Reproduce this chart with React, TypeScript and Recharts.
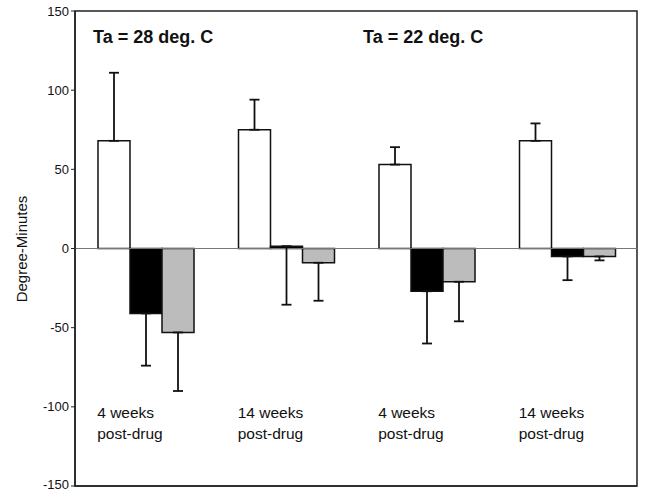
import {
  BarChart,
  Bar,
  XAxis,
  YAxis,
  ErrorBar,
  ReferenceLine,
  ReferenceArea,
} from 'recharts';

// groups along the x axis
const categories = ['4 weeks\npost-drug', '14 weeks\npost-drug', '4 weeks\npost-drug', '14 weeks\npost-drug'];
const conditions = ['Ta = 28 deg. C', 'Ta = 22 deg. C'];

// open bars, error drawn upward
const controlValues = [68, 75, 53, 68];
const controlErrors = [43, 19, 11, 11];

// black bars, error drawn downward
const blackValues = [-41, 1.5, -27, -5];
const blackErrors = [33, 37, 33, 15];

// grey bars, error drawn downward
const greyValues = [-53, -9, -21, -5];
const greyErrors = [37, 24, 25, 2.5];

const yTicks = [-150, -100, -50, 0, 50, 100, 150];

const FONT = '"Liberation Sans", Arial, Helvetica, sans-serif';

const data = categories.map((name, i) => ({
  name,
  control: controlValues[i],
  controlErr: [0, controlErrors[i]],
  black: blackValues[i],
  blackErr: [blackErrors[i], 0],
  grey: greyValues[i],
  greyErr: [greyErrors[i], 0],
}));

// group captions sit inside the plot, above the bottom axis
const renderGroupLabel = (props: any) => {
  const { x, y, payload } = props;
  const lines = String(payload?.value ?? '').split('\n');
  const left = Number(x) - 48;
  const base = Number(y) - 68;
  return (
    <g>
      {lines.map((line, i) => (
        <text key={i} x={left} y={base + i * 21} fontSize={15.5} fontFamily={FONT} fill="#111">
          {line}
        </text>
      ))}
    </g>
  );
};

// keep the lowest label inside the picture
const renderValueTick = (props: any) => {
  const { x, y, payload } = props;
  return (
    <text
      x={Number(x)}
      y={Math.min(Number(y), 484)}
      textAnchor="end"
      dominantBaseline="central"
      fontSize={13}
      fontFamily={FONT}
      fill="#111"
    >
      {payload?.value}
    </text>
  );
};

export default function App() {
  return (
    <div style={{ position: 'absolute', left: 0, top: 0, width: 646, height: 491, background: '#fff' }}>
      <BarChart
        width={646}
        height={491}
        data={data}
        margin={{ top: 11, right: 9, bottom: 0, left: 15 }}
        barCategoryGap={23}
        barGap={0}
      >
        <ReferenceArea y1={-150} y2={150} fill="none" stroke="#222" strokeWidth={1.5} />
        <XAxis
          dataKey="name"
          height={5}
          tickLine={false}
          tickSize={0}
          tickMargin={0}
          axisLine={{ stroke: '#222', strokeWidth: 1.5 }}
          tick={renderGroupLabel}
          interval={0}
        />
        <YAxis
          width={60}
          domain={[-150, 150]}
          ticks={yTicks}
          interval={0}
          tickSize={4}
          tickMargin={2}
          axisLine={{ stroke: '#222', strokeWidth: 1.5 }}
          tickLine={{ stroke: '#222' }}
          tick={renderValueTick}
        />
        <ReferenceLine y={0} stroke="#777" strokeWidth={1} />
        <Bar dataKey="control" fill="#fff" stroke="#111" strokeWidth={1.5} isAnimationActive={false}>
          <ErrorBar dataKey="controlErr" width={5} stroke="#111" strokeWidth={1.8} />
        </Bar>
        <Bar dataKey="black" fill="#000" stroke="#111" strokeWidth={1.5} isAnimationActive={false}>
          <ErrorBar dataKey="blackErr" width={5} stroke="#111" strokeWidth={1.8} />
        </Bar>
        <Bar dataKey="grey" fill="#bcbcbc" stroke="#111" strokeWidth={1.5} isAnimationActive={false}>
          <ErrorBar dataKey="greyErr" width={5} stroke="#111" strokeWidth={1.8} />
        </Bar>
      </BarChart>
      <svg
        width={646}
        height={491}
        style={{ position: 'absolute', left: 0, top: 0, pointerEvents: 'none' }}
      >
        <text x={93} y={43} fontSize={18} fontWeight="bold" fontFamily={FONT} fill="#111">
          {conditions[0]}
        </text>
        <text x={363} y={43} fontSize={18} fontWeight="bold" fontFamily={FONT} fill="#111">
          {conditions[1]}
        </text>
        <text
          transform="translate(27,249) rotate(-90)"
          textAnchor="middle"
          fontSize={15}
          fontFamily={FONT}
          fill="#111"
        >
          Degree-Minutes
        </text>
      </svg>
    </div>
  );
}
